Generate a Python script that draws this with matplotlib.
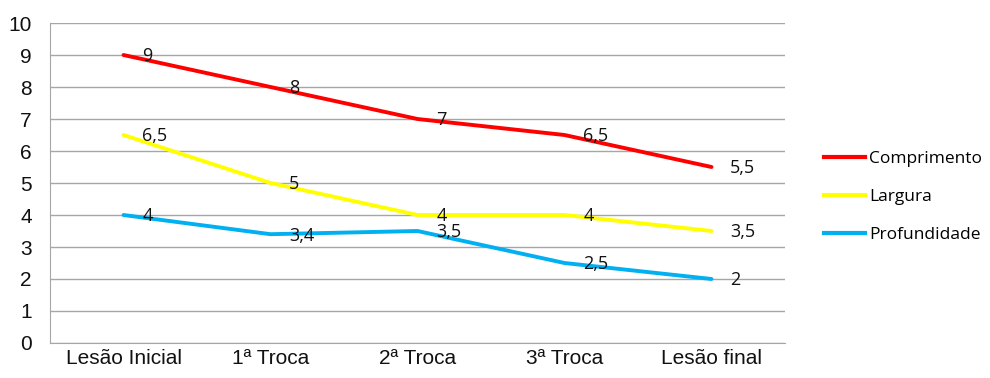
import matplotlib
matplotlib.use("Agg")
import matplotlib.pyplot as plt
from matplotlib.lines import Line2D

categories = ["Lesão Inicial", "1ª Troca", "2ª Troca", "3ª Troca", "Lesão final"]
comprimento = [9, 8, 7, 6.5, 5.5]
largura = [6.5, 5, 4, 4, 3.5]
profundidade = [4, 3.4, 3.5, 2.5, 2]
series_names = ["Comprimento", "Largura", "Profundidade"]
colors = ["#FF0000", "#FFFF00", "#00B0F0"]
yticks = list(range(0, 11))

plt.rcParams['font.family'] = ['Liberation Sans', 'DejaVu Sans']

fig = plt.figure(figsize=(9.9, 3.78), dpi=100)
ax = fig.add_axes([50/990, 1-343/378, 735/990, 320/378])

x = list(range(len(categories)))
series = [comprimento, largura, profundidade]
handles = []
for vals, col, name in zip(series, colors, series_names):
    ax.plot(x, vals, color=col, lw=2.8, solid_capstyle='round', zorder=3)
    handles.append(Line2D([0], [0], color=col, lw=3.0))
    for xi, v in zip(x, vals):
        txt = (f"{v:g}").replace(".", ",")
        ax.annotate(txt, (xi, v), xytext=(13.5, -1), textcoords='offset points',
                    ha='left', va='center', fontsize=13, color='#111111',
                    family=['Open Sans', 'DejaVu Sans'], zorder=4)

ax.set_xlim(-0.5, len(categories) - 0.5)
ax.set_ylim(0, 10)
ax.set_yticks(yticks)
ax.set_xticks(x)
ax.set_xticklabels(categories)
ax.tick_params(axis='both', length=0, labelsize=15, colors='#111111')
ax.tick_params(axis='y', pad=13)
ax.tick_params(axis='x', pad=4)
ax.grid(axis='y', color='#A6A6A6', lw=1.0)
ax.set_axisbelow(True)
for s in ['top', 'right']:
    ax.spines[s].set_visible(False)
ax.spines['left'].set_color('#A6A6A6')
ax.spines['bottom'].set_color('#A6A6A6')

fig.legend(handles, series_names, loc='center left',
           bbox_to_anchor=(808/990, 1-197/378), frameon=False,
           prop={'family': ['Open Sans', 'DejaVu Sans'], 'size': 12.5},
           handlelength=2.4, handletextpad=0.2, labelspacing=1.25)

fig.savefig("out.png", dpi=100)
